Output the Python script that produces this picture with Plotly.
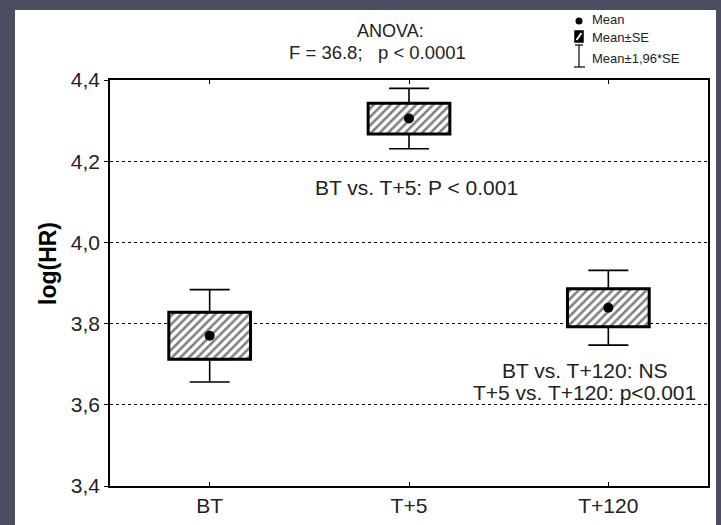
import plotly.graph_objects as go

# ---- data ----
categories = ["BT", "T+5", "T+120"]
means = [3.770, 4.305, 3.839]
se = [0.058, 0.038, 0.047]
ci_factor = 1.96
y_ticks = [3.4, 3.6, 3.8, 4.0, 4.2, 4.4]
y_tick_labels = ["3,4", "3,6", "3,8", "4,0", "4,2", "4,4"]

W, H = 721, 525
FONT = "Liberation Sans, Arial, sans-serif"
BG = "#4b4e5e"


def px(x):
    return x / W


def py(y):
    return 1 - y / H


box_base = [m - s for m, s in zip(means, se)]
box_height = [2 * s for s in se]
upper_edge = [m + s for m, s in zip(means, se)]
whisker_ext = [(ci_factor - 1) * s for s in se]
zeros = [0] * len(se)

fig = go.Figure()

fig.add_trace(go.Bar(
    x=categories, y=box_height, base=box_base, width=0.41,
    marker=dict(color="white", line=dict(color="black", width=3),
                pattern=dict(shape="/", fgcolor="black", bgcolor="white",
                             size=6, solidity=0.42)),
    hoverinfo="skip"))

fig.add_trace(go.Scatter(
    x=categories, y=upper_edge, mode="markers",
    marker=dict(color="rgba(0,0,0,0)", size=1),
    error_y=dict(type="data", symmetric=False, array=whisker_ext,
                 arrayminus=zeros, width=20, thickness=1.6, color="black")))
fig.add_trace(go.Scatter(
    x=categories, y=box_base, mode="markers",
    marker=dict(color="rgba(0,0,0,0)", size=1),
    error_y=dict(type="data", symmetric=False, array=zeros,
                 arrayminus=whisker_ext, width=20, thickness=1.6, color="black")))

fig.add_trace(go.Scatter(
    x=categories, y=means, mode="markers",
    marker=dict(color="black", size=10, symbol="circle")))

shapes = [
    # white slide panel
    dict(type="rect", xref="paper", yref="paper", x0=px(15), x1=px(716),
         y0=0, y1=py(10), fillcolor="white", line=dict(width=0), layer="below"),
    # legend: mean dot
    dict(type="circle", xref="paper", yref="paper", x0=px(575.5), x1=px(582.5),
         y0=py(24.5), y1=py(17.5), fillcolor="black", line=dict(width=0)),
    # legend: hatched box
    dict(type="rect", xref="paper", yref="paper", x0=px(575), x1=px(583),
         y0=py(42), y1=py(31), fillcolor="black", line=dict(color="black", width=1.5)),
    dict(type="line", xref="paper", yref="paper", x0=px(576.5), x1=px(581.5),
         y0=py(40), y1=py(33), line=dict(color="white", width=2)),
    # legend: whisker I-beam
    dict(type="line", xref="paper", yref="paper", x0=px(579), x1=px(579),
         y0=py(67), y1=py(45), line=dict(color="black", width=1.2)),
    dict(type="line", xref="paper", yref="paper", x0=px(575), x1=px(583),
         y0=py(45), y1=py(45), line=dict(color="black", width=1.2)),
    dict(type="line", xref="paper", yref="paper", x0=px(574), x1=px(585),
         y0=py(67), y1=py(67), line=dict(color="black", width=1.2)),
]

annotations = [
    dict(text="ANOVA:", x=px(390), y=py(31), font=dict(size=18)),
    dict(text="F = 36.8;   p < 0.0001", x=px(377), y=py(53), font=dict(size=18.5)),
    dict(text="BT vs. T+5: P < 0.001", x=px(416), y=py(187), font=dict(size=21)),
    dict(text="BT vs. T+120: NS", x=px(585), y=py(370), font=dict(size=21)),
    dict(text="T+5 vs. T+120: p<0.001", x=px(584), y=py(392), font=dict(size=21)),
    dict(text="<b>log(HR)</b>", x=px(48), y=py(264), textangle=-90,
         font=dict(size=23, color="black")),
    dict(text="Mean", x=px(590), y=py(20), xanchor="left", font=dict(size=13)),
    dict(text="Mean±SE", x=px(590), y=py(37), xanchor="left", font=dict(size=13)),
    dict(text="Mean±1,96*SE", x=px(590), y=py(58), xanchor="left", font=dict(size=13)),
]
for a in annotations:
    a.update(xref="paper", yref="paper", showarrow=False)
    a.setdefault("xanchor", "center")
    a["yanchor"] = "middle"
    a["font"].setdefault("color", "#222222")
    a["font"]["family"] = FONT

fig.update_layout(
    width=W, height=H,
    margin=dict(l=0, r=0, t=0, b=0, autoexpand=False),
    paper_bgcolor=BG, plot_bgcolor="white",
    showlegend=False,
    font=dict(family=FONT, color="#222222"),
    shapes=shapes, annotations=annotations,
    xaxis=dict(domain=[px(110), px(708)], type="category", range=[-0.5, 2.5],
               showline=True, linecolor="black", linewidth=1.6, mirror="ticks",
               ticks="inside", ticklen=4, tickcolor="black", tickwidth=1,
               tickfont=dict(size=21, family=FONT, color="#222222"),
               showgrid=False, zeroline=False, automargin=False, fixedrange=True),
    yaxis=dict(domain=[py(486), py(80)], range=[3.4, 4.4],
               tickmode="array", tickvals=y_ticks, ticktext=y_tick_labels,
               showline=True, linecolor="black", linewidth=1.6, mirror=True,
               ticks="outside", ticklen=4, tickcolor="black",
               tickfont=dict(size=21, family=FONT, color="#222222"),
               showgrid=True, gridcolor="black", gridwidth=1, griddash="dot",
               zeroline=False, automargin=False, fixedrange=True),
)

fig.write_html(
    "out.html",
    config={"displayModeBar": False},
    post_script="document.body.style.margin='0';document.body.style.background='%s';" % BG,
)
